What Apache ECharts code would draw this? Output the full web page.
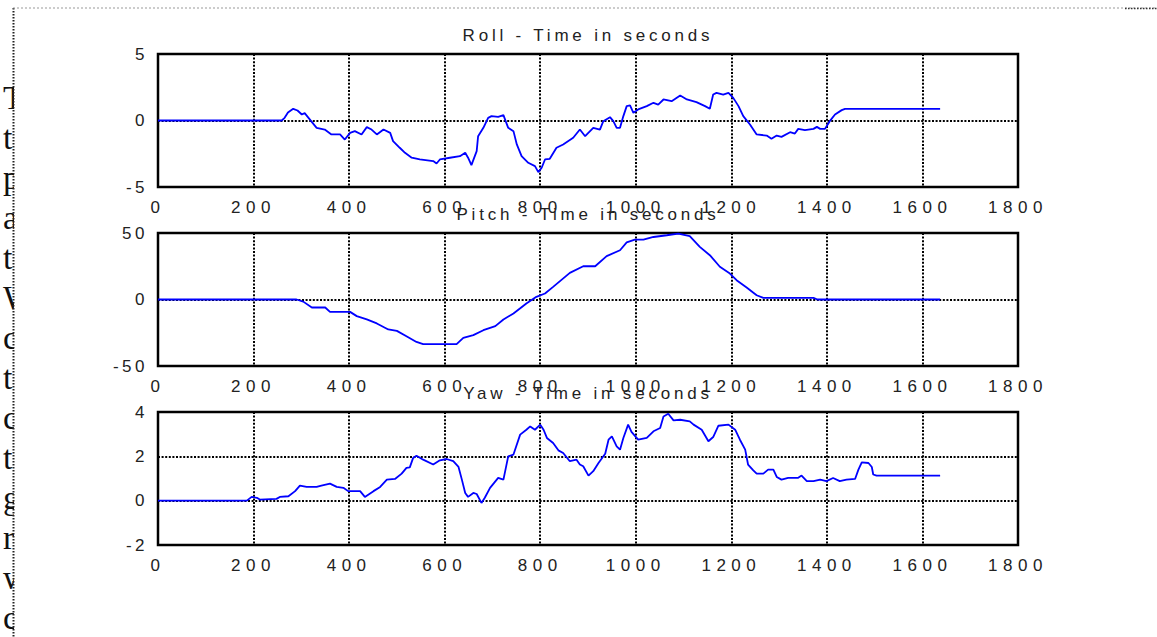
<!DOCTYPE html>
<html><head><meta charset="utf-8">
<script src="https://cdn.jsdelivr.net/npm/echarts@6/dist/echarts.min.js"></script>
<style>
html,body{margin:0;padding:0;background:#fff;}
#chart{width:1157px;height:637px;}
#chart svg text{letter-spacing:5.5px;}
</style></head><body><div id="chart"></div>
<script>
// ---- data ----
const titles = ['Roll - Time in seconds', 'Pitch - Time in seconds', 'Yaw - Time in seconds'];
const xTickStep = 200;
const xMax = 1800;

const rollT = [0,259,265,272,283,292,301,307,318,332,349,363,381,391,402,412,426,437,447,458,472,486,492,506,517,531,548,576,583,590,611,632,643,649,656,667,670,681,691,698,712,723,733,744,751,761,775,789,796,803,810,820,834,848,869,883,894,911,925,932,946,953,960,967,974,981,988,995,1005,1023,1037,1047,1058,1075,1093,1107,1127,1145,1155,1162,1169,1183,1194,1204,1215,1225,1239,1253,1274,1284,1295,1305,1323,1333,1340,1354,1372,1379,1386,1396,1406,1417,1431,1438,1637];
const rollV = [0,0,0.2,0.6,0.88,0.75,0.45,0.55,0.07,-0.55,-0.68,-1.05,-1.05,-1.43,-0.93,-0.8,-1.05,-0.5,-0.68,-1.05,-0.68,-0.93,-1.55,-2.05,-2.43,-2.8,-2.93,-3.05,-3.23,-2.93,-2.8,-2.68,-2.43,-2.8,-3.36,-2.3,-1.18,-0.55,0.2,0.33,0.28,0.4,-0.55,-0.8,-1.8,-2.68,-3.18,-3.43,-3.88,-3.55,-2.93,-2.88,-2.05,-1.8,-1.3,-0.68,-1.18,-0.55,-0.68,-0.05,0.25,-0.05,-0.55,-0.55,0.33,1.08,1.13,0.58,0.83,1.08,1.33,1.2,1.58,1.45,1.88,1.58,1.38,1.08,0.88,1.95,2.08,1.95,2.08,1.7,1.08,0.33,-0.3,-1.05,-1.13,-1.38,-1.13,-1.23,-0.88,-0.98,-0.63,-0.73,-0.63,-0.48,-0.63,-0.63,-0.05,0.45,0.78,0.88,0.88];

const pitchT = [0,290,304,322,350,360,402,416,437,458,482,500,520,541,555,625,639,660,681,706,723,744,771,792,810,827,862,890,915,939,967,981,998,1016,1037,1065,1089,1113,1134,1155,1176,1197,1211,1232,1253,1267,1372,1380,1637];
const pitchV = [0,0,-1.6,-6,-6,-9.3,-9.3,-12.5,-15,-18,-22.5,-23.6,-27.6,-31.9,-33.6,-33.6,-28.9,-26.8,-23.1,-20,-15,-10.5,-3,2,4.5,9.5,20,25,25,32.6,37,43,45,45,47,48.3,49.6,47.6,39.6,33.3,24.6,19.5,14.5,9,3.2,1.2,1.2,0,0];

const yawT = [0,186,196,207,213,248,255,273,287,297,311,332,342,360,374,388,398,423,433,451,465,479,496,510,520,527,534,541,555,576,590,604,618,629,636,643,649,660,667,677,684,695,712,723,733,744,758,771,779,789,800,807,814,827,838,848,862,876,883,890,901,911,922,936,943,950,960,967,974,984,991,1005,1023,1037,1051,1058,1068,1079,1093,1113,1121,1138,1152,1162,1173,1194,1208,1218,1229,1235,1246,1253,1267,1277,1288,1295,1305,1319,1340,1347,1358,1372,1386,1399,1413,1427,1441,1459,1466,1473,1487,1494,1497,1504,1637];
const yawV = [0,0,0.17,0.13,0.05,0.08,0.17,0.2,0.43,0.68,0.62,0.62,0.68,0.77,0.62,0.58,0.43,0.43,0.17,0.43,0.62,0.95,0.98,1.22,1.48,1.5,1.93,2.03,1.85,1.63,1.82,1.88,1.78,1.52,0.95,0.35,0.17,0.35,0.3,-0.1,0.13,0.58,1.03,0.95,2.0,2.08,2.98,3.2,3.35,3.2,3.43,3.2,2.83,2.6,2.27,2.15,1.78,1.85,1.63,1.55,1.13,1.33,1.7,2.12,2.75,2.9,2.45,2.3,2.83,3.43,3.1,2.75,2.83,3.13,3.28,3.8,3.92,3.62,3.65,3.58,3.43,3.2,2.68,2.87,3.38,3.43,3.2,2.75,2.3,1.63,1.37,1.22,1.22,1.4,1.4,1.07,0.95,1.03,1.03,1.13,0.88,0.88,0.95,0.88,1.02,0.88,0.95,0.98,1.4,1.73,1.7,1.52,1.18,1.13,1.13];

const yRanges = [ {min:-5, max:5, interval:5}, {min:-50, max:50, interval:50}, {min:-2, max:4, interval:2} ];
const sideLetters = ['T','t','p','a','t','W','c','t','c','t','g','r','w','c'];

// ---- layout ----
const gridTops = [54, 233, 412];
const gridLeft = 158, gridWidth = 860, gridHeight = 133;
const font = 'Liberation Sans, Arial, sans-serif';
const series = [[rollT, rollV], [pitchT, pitchV], [yawT, yawV]];

const chart = echarts.init(document.getElementById('chart'), null, {renderer: 'svg'});
const dotted = {color: '#000', width: 2, type: [2, 1.6]};

const option = {
  animation: false,
  backgroundColor: '#fff',
  title: titles.map((t, i) => ({
    text: t, left: 588, top: gridTops[i] - 27, textAlign: 'center', padding: 0,
    textStyle: {fontFamily: font, fontSize: 17, fontWeight: 'normal', color: '#222'}
  })),
  grid: gridTops.map(top => ({
    left: gridLeft, top: top, width: gridWidth, height: gridHeight,
    show: true, borderColor: '#000', borderWidth: 2.5, backgroundColor: 'transparent', containLabel: false
  })),
  xAxis: gridTops.map((_, i) => ({
    type: 'value', gridIndex: i, min: 0, max: xMax, interval: xTickStep,
    axisLine: {show: false}, axisTick: {show: false},
    axisLabel: {fontFamily: font, fontSize: 17, color: '#222', margin: 12, formatter: v => String(v)},
    splitLine: {show: true, lineStyle: dotted}
  })),
  yAxis: yRanges.map((r, i) => ({
    type: 'value', gridIndex: i, min: r.min, max: r.max, interval: r.interval,
    axisLine: {show: false}, axisTick: {show: false},
    axisLabel: {fontFamily: font, fontSize: 17, color: '#222', margin: 10, padding: [6, 0, 0, 0], formatter: v => String(v)},
    splitLine: {show: true, lineStyle: dotted}
  })),
  series: series.map((s, i) => ({
    type: 'line', xAxisIndex: i, yAxisIndex: i, showSymbol: false, silent: true,
    lineStyle: {color: '#0000ff', width: 1.8},
    data: s[0].map((t, j) => [t, s[1][j]])
  })),
  graphic: [
    ...sideLetters.map((ch, k) => ({
      type: 'text', left: 3, top: 110 + 40 * k - 30, z: 1,
      style: {text: ch, font: '34px "Liberation Serif", "Times New Roman", serif', fill: '#111'}
    })),
    {type: 'rect', shape: {x: 14, y: 0, width: 30, height: 637}, style: {fill: '#fff'}, z: 2},
    {type: 'line', shape: {x1: 13.5, y1: 8, x2: 13.5, y2: 637}, style: {stroke: '#222', lineWidth: 2, lineDash: [1.5, 1.5]}, z: 3},
    {type: 'line', shape: {x1: 13, y1: 8, x2: 1157, y2: 8}, style: {stroke: '#999', lineWidth: 1, lineDash: [2, 2]}, z: 3},
    {type: 'line', shape: {x1: 1125, y1: 8.5, x2: 1157, y2: 8.5}, style: {stroke: '#333', lineWidth: 1.5, lineDash: [1.5, 1.5]}, z: 3}
  ]
};
chart.setOption(option);

function fixSpacing() {
  document.querySelectorAll('#chart svg text').forEach(el => {
    const txt = el.textContent;
    const anchor = el.getAttribute('text-anchor') || el.style.textAnchor || '';
    if (txt.indexOf('Time') >= 0) el.style.letterSpacing = '3.8px';
    else if (txt.length === 1 && /[a-zA-Z]/.test(txt)) el.style.letterSpacing = '0px';
    else if (anchor === 'end') el.style.letterSpacing = '3.5px';
  });
}
fixSpacing();
chart.on('finished', fixSpacing);
</script></body></html>
